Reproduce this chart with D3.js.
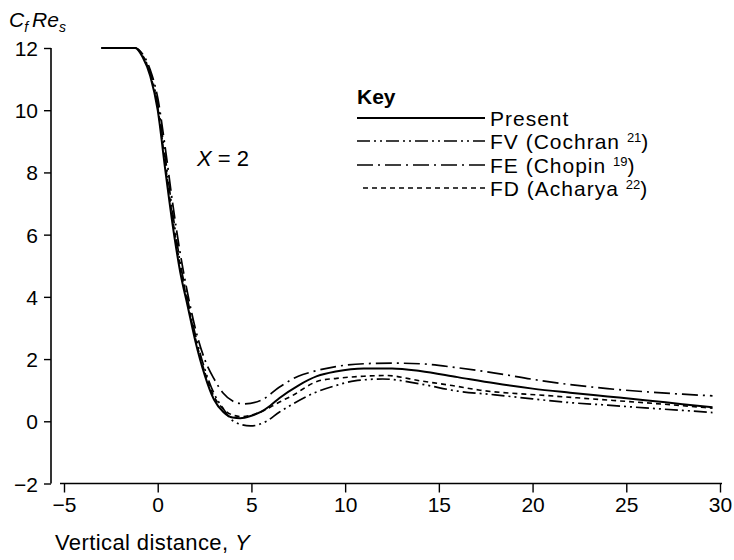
<!DOCTYPE html>
<html>
<head>
<meta charset="utf-8">
<script src="https://cdn.jsdelivr.net/npm/d3@7"></script>
<style>
  body { margin: 0; background: #fff; }
  svg { font-family: "Liberation Sans", Arial, sans-serif; }
</style>
</head>
<body>
<div id="chart"></div>
<script>
// valores (X = 2)
var xTicks = [-5, 0, 5, 10, 15, 20, 25, 30];
var yTicks = [-2, 0, 2, 4, 6, 8, 10, 12];

var presentY = [-3, -1.2, -0.8, -0.4, 0, 0.4, 0.8, 1.2, 1.6, 2, 2.5, 3, 3.5, 4, 4.4, 5, 5.5, 6, 6.5, 7.5, 8.5, 9.5, 11, 12.5, 14, 16, 18, 20, 22, 24, 26, 28, 29.6];
var presentC = [12, 12, 11.7, 11.1, 10.0, 8.1, 6.3, 4.8, 3.7, 2.6, 1.5, 0.7, 0.3, 0.12, 0.1, 0.18, 0.3, 0.5, 0.75, 1.15, 1.45, 1.6, 1.7, 1.7, 1.62, 1.42, 1.22, 1.05, 0.92, 0.8, 0.68, 0.55, 0.45];

var fvY = [-3, -1.2, -0.8, -0.4, 0, 0.4, 0.8, 1.2, 1.6, 2, 2.5, 3, 3.5, 4.05, 4.95, 5.8, 6.5, 7.1, 8.3, 9.5, 10.5, 12, 14, 16, 18, 20, 22, 24, 26, 28, 29.6];
var fvC = [12, 12, 11.75, 11.2, 10.2, 8.5, 6.7, 5.1, 3.9, 2.8, 1.7, 0.9, 0.4, 0.0, -0.15, 0.0, 0.3, 0.52, 0.9, 1.15, 1.3, 1.36, 1.2, 0.97, 0.85, 0.72, 0.6, 0.52, 0.43, 0.35, 0.28];

var feY = [-3, -1.2, -0.8, -0.4, 0, 0.4, 0.8, 1.2, 1.6, 2, 2.5, 3, 3.5, 4, 4.6, 5.5, 6.5, 7.5, 8.3, 9.5, 11, 12.5, 14, 16, 18, 20, 22, 24, 26, 28, 29.6];
var feC = [12, 12, 11.8, 11.3, 10.4, 8.8, 7.0, 5.4, 4.1, 3.0, 2.0, 1.37, 0.9, 0.65, 0.56, 0.67, 1.1, 1.45, 1.6, 1.76, 1.85, 1.87, 1.85, 1.72, 1.55, 1.35, 1.18, 1.05, 0.95, 0.87, 0.82];

var fdY = [-3, -1.2, -0.8, -0.4, 0, 0.4, 0.8, 1.2, 1.6, 2, 2.5, 3, 3.5, 4, 4.5, 5, 5.5, 6.5, 7.1, 8.6, 9.55, 11, 12.2, 14, 15.7, 17.2, 20.7, 24.3, 27, 29.6];
var fdC = [12, 12, 11.75, 11.15, 10.1, 8.3, 6.5, 5.0, 3.8, 2.7, 1.6, 0.8, 0.4, 0.2, 0.15, 0.2, 0.3, 0.62, 0.8, 1.3, 1.38, 1.45, 1.47, 1.3, 1.15, 1.0, 0.83, 0.67, 0.55, 0.42];

var seriesNames = ["Present", "FV (Cochran ", "FE (Chopin ", "FD (Acharya "];
var seriesRefs = ["", "21", "19", "22"];

var width = 734, height = 560;

var svg = d3.select("#chart").append("svg")
  .attr("width", width)
  .attr("height", height);

svg.append("rect").attr("width", width).attr("height", height).attr("fill", "white");

// escalas
var x = d3.scaleLinear().domain([-5, 30]).range([64, 720]);
var y = d3.scaleLinear().domain([-2, 12]).range([483.5, 48]);

// eje Y (desplazado a la izquierda)
var yAxis = d3.axisLeft(y).tickValues(yTicks).tickSize(7).tickPadding(6)
  .tickFormat(function(d) { return d < 0 ? "\u2212" + Math.abs(d) : d; });
var yAxisG = svg.append("g").attr("transform", "translate(51,0)").call(yAxis);
yAxisG.select(".domain").remove();
yAxisG.append("line").attr("x1", 0).attr("x2", 0).attr("y1", y(12)).attr("y2", y(-2))
  .attr("stroke", "#000").attr("stroke-width", 1.6);

// eje X
var xAxis = d3.axisBottom(x).tickValues(xTicks).tickSize(9).tickPadding(5)
  .tickFormat(function(d) { return d < 0 ? "\u2212" + Math.abs(d) : d; });
var xAxisG = svg.append("g").attr("transform", "translate(0,483.5)").call(xAxis);
xAxisG.select(".domain").remove();
xAxisG.append("line").attr("x1", 60).attr("x2", 722).attr("y1", 0).attr("y2", 0)
  .attr("stroke", "#000").attr("stroke-width", 1.6);

[yAxisG, xAxisG].forEach(function(g) {
  g.selectAll(".tick line").attr("stroke", "#000").attr("stroke-width", 1.4);
  g.selectAll(".tick text").attr("fill", "#000").style("font-size", "21px")
    .style("font-family", "'Liberation Sans', Arial, sans-serif");
});
yAxisG.selectAll(".tick text").attr("dy", "0.36em");

// curvas
var line = d3.line()
  .x(function(d) { return x(d[0]); })
  .y(function(d) { return y(d[1]); })
  .curve(d3.curveMonotoneX);

var series = [
  { ys: presentY, cs: presentC, dash: null, w: 2 },
  { ys: fvY, cs: fvC, dash: "13,4,2,4,2,4", w: 1.7 },
  { ys: feY, cs: feC, dash: "16,5,2,5", w: 1.7 },
  { ys: fdY, cs: fdC, dash: "5,4", w: 1.6 }
];

series.forEach(function(s) {
  var pts = s.ys.map(function(v, i) { return [v, s.cs[i]]; });
  svg.append("path")
    .attr("d", line(pts))
    .attr("fill", "none")
    .attr("stroke", "#000")
    .attr("stroke-width", s.w)
    .attr("stroke-dasharray", s.dash);
});

// leyenda
var legend = svg.append("g");
legend.append("text").attr("x", 357).attr("y", 104)
  .style("font-size", "21px").style("font-weight", "bold").text("Key");

var legendY = [118, 141, 165, 188];
series.forEach(function(s, i) {
  legend.append("line")
    .attr("x1", i === 3 ? 363 : 357).attr("x2", 485)
    .attr("y1", legendY[i]).attr("y2", legendY[i])
    .attr("stroke", "#000").attr("stroke-width", s.w)
    .attr("stroke-dasharray", s.dash);
  var t = legend.append("text").attr("x", 490).attr("y", legendY[i] + 8)
    .style("font-size", "21px").style("letter-spacing", "1px");
  t.append("tspan").text(seriesNames[i]);
  if (seriesRefs[i]) {
    t.append("tspan").attr("dy", -7).style("font-size", "13px").style("letter-spacing", "0px").text(seriesRefs[i]);
    t.append("tspan").attr("dy", 7).text(")");
  }
});

// textos
svg.append("text").attr("x", 197).attr("y", 166).style("font-size", "22px")
  .html('<tspan font-style="italic">X</tspan> = 2');

var yl = svg.append("text").attr("x", 9).attr("y", 27).style("font-size", "21px");
yl.append("tspan").attr("font-style", "italic").text("C");
yl.append("tspan").attr("font-style", "italic").attr("dy", 5).style("font-size", "14px").text("f");
yl.append("tspan").attr("font-style", "italic").attr("dy", -5).attr("dx", 4).text("Re");
yl.append("tspan").attr("font-style", "italic").attr("dy", 5).style("font-size", "14px").text("s");

svg.append("text").attr("x", 55).attr("y", 550).style("font-size", "22px")
  .style("letter-spacing", "0.4px")
  .html('Vertical distance, <tspan font-style="italic">Y</tspan>');
</script>
</body>
</html>
